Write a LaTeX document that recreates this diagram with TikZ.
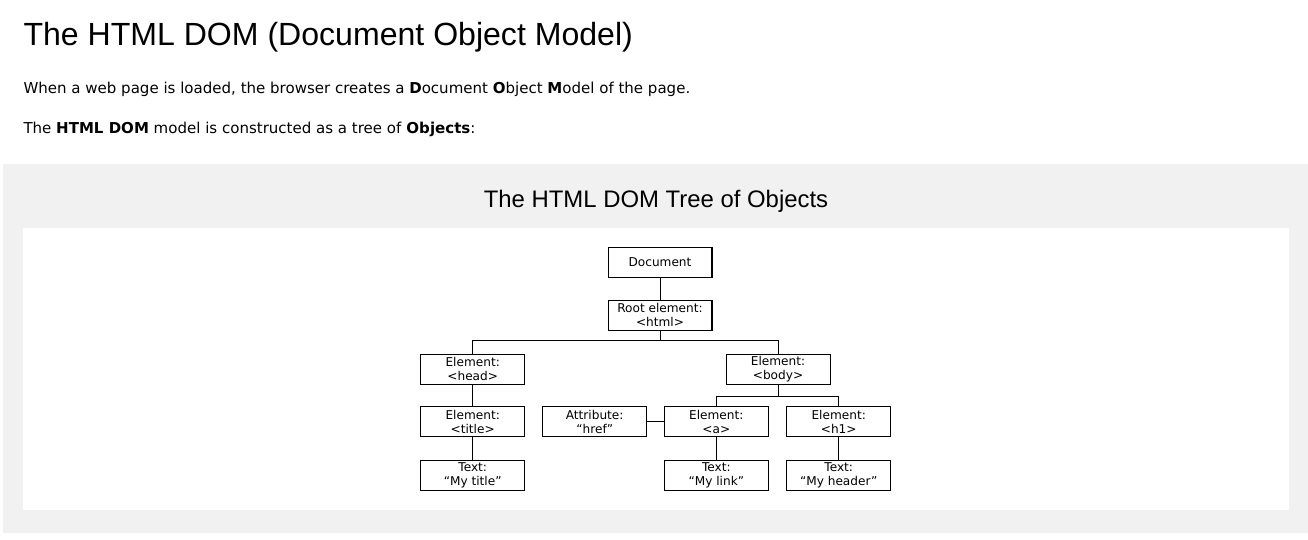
\documentclass[tikz,border=0pt]{standalone}
\usepackage{fontspec}
\setmainfont{DejaVu Sans}
\newfontfamily\headfont{Liberation Sans}
\usetikzlibrary{positioning}

\begin{document}
\begin{tikzpicture}[x=0.02cm, y=-0.02cm,
    every path/.style={line width=0.57pt},
    obj/.style={draw, fill=white, minimum width=2.08cm, minimum height=0.6cm,
      inner sep=0pt, align=center, font=\fontsize{6.9}{7.9}\selectfont}]
  \useasboundingbox (0,0) rectangle (1308,539);

  % 1. page text
  \node[anchor=base west, inner sep=0pt, font=\headfont\fontsize{18.25}{20}\selectfont]
    (heading) at (23,45) {The HTML DOM (Document Object Model)};
  \node[anchor=base west, inner sep=0pt, font=\fontsize{8.55}{10}\selectfont]
    (intro) at (23,93) {When a web page is loaded, the browser creates a \textbf{D}ocument \textbf{O}bject \textbf{M}odel of the page.};
  \node[anchor=base west, inner sep=0pt, font=\fontsize{8.55}{10}\selectfont]
    (treeof) at (23,133) {The \textbf{HTML DOM} model is constructed as a tree of \textbf{Objects}:};

  % 2. panel
  \fill[fill={rgb,255:red,241;green,241;blue,241}] (3,164) rectangle (1308,533);
  \fill[white] (23,228) rectangle (1289,510);
  \node[anchor=base, inner sep=0pt, font=\headfont\fontsize{13.6}{16}\selectfont]
    (caption) at (656,207) {The HTML DOM Tree of Objects};

  % 3. tree
  \node[obj] (doc)     at (660,262)   {Document};
  \node[obj] (root)    at (660,315)   {Root element:\\<html>};
  \node[obj] (head)    at (472.7,369.3) {Element:\\<head>};
  \node[obj] (body)    at (778,369.3)   {Element:\\<body>};
  \node[obj] (title)   at (472.7,421.7) {Element:\\<title>};
  \node[obj] (attr)    at (594.7,421.7) {Attribute:\\“href”};
  \node[obj] (a)       at (716.3,421.7) {Element:\\<a>};
  \node[obj] (h1)      at (838.7,421.7) {Element:\\<h1>};
  \node[obj] (ttitle)  at (472.7,475)   {Text:\\“My title”};
  \node[obj] (tlink)   at (716.3,475)   {Text:\\“My link”};
  \node[obj] (theader) at (838.7,475)   {Text:\\“My header”};

  \coordinate (rootbar) at (660,340);
  \coordinate (bodybar) at (778,396.7);

  \draw (doc.south) -- (root.north);
  \draw (root.south) -- (rootbar) -| (head.north);
  \draw (rootbar) -| (body.north);
  \draw (body.south) -- (bodybar) -| (a.north);
  \draw (bodybar) -| (h1.north);
  \draw (attr.east) -- (a.west);
  \foreach \p/\c in {head/title, title/ttitle, a/tlink, h1/theader} {
    \draw (\p.south) -- (\c.north);
  }
\end{tikzpicture}
\end{document}
